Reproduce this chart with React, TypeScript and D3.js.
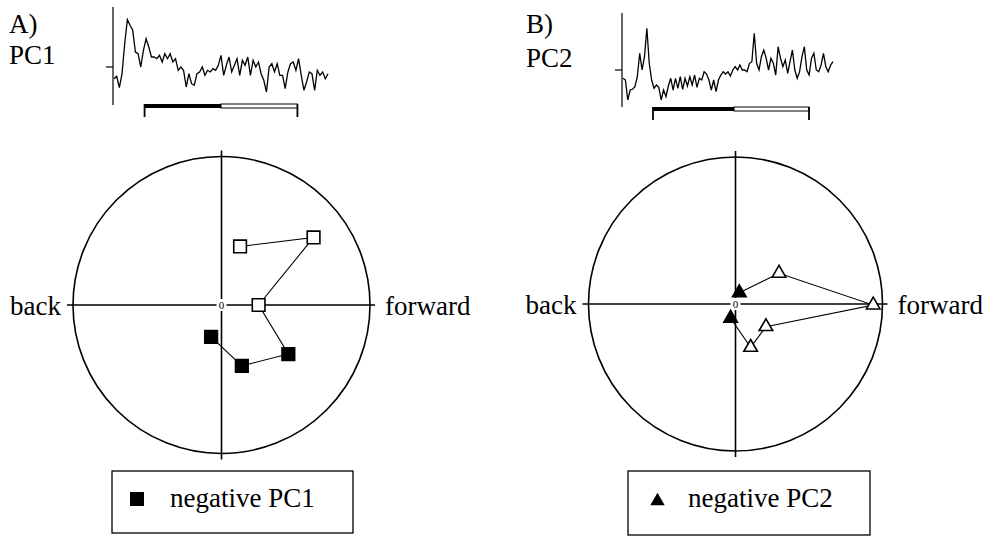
import React from "react";
import * as d3 from "d3";

// ---- data ----
const pc1Wave = [-1.17,-0.93,-2.07,-0.67,2.33,4.73,4.17,3.67,1.5,1.33,0,1.67,2.83,2.0,1.0,1.0,0.83,1.17,0.5,1.33,0.83,1.33,0.5,0.83,-0.33,0,-0.33,-2.0,-0.67,-1.67,-1.83,-0.67,-0.5,0,-0.83,-0.33,-0.5,-0.17,-0.33,0.17,1.17,-0.83,0.17,1.0,-0.5,0.17,0.83,-0.83,0.67,0.17,1.0,-0.83,0.67,0,0.5,-0.67,-1.33,-2.5,0,0.33,-0.5,0.33,-0.83,-0.83,-2.17,-0.5,0.33,0.5,-0.33,0.83,-0.83,-2.33,-1.5,-0.5,-0.67,-2.33,-0.33,-0.83,-0.5,-1.17,-0.67];
const pc2Wave = [-0.83,-1.0,-3.0,-2.0,-1.93,-1.67,-0.67,1.67,0,1.33,4.17,0.67,-1.0,-1.83,-1.5,-1.73,-3.0,-2.0,-2.67,-1.6,-0.83,-2.0,-0.83,-1.83,-0.67,-1.93,-0.83,-1.6,-0.67,-1.5,-0.5,-1.73,-0.83,-1.0,-0.17,-0.4,-1.0,-2.0,-1.0,-2.17,-1.0,-0.5,-0.17,-0.4,-0.17,-0.6,0,0.33,0,0.5,0,0,-0.17,0.67,0.83,3.67,0.67,0,1.33,2.0,1.17,0,1.17,0.67,-0.5,2.33,1.17,0.33,1.0,-0.33,0.83,2.0,0,-0.83,-0.17,1.33,2.33,0,-0.5,1.17,1.67,0,-0.17,0.5,1.67,0.33,-0.17,0.5,0.83];
const timeRange = [-100, 600]; // ms
const pc1Bar = [0, 250, 500];
const pc2Bar = [0, 270, 520];

// PC loadings: [x (back/forward), y]
const pc1PosX = [0.125, 0.62, 0.25];
const pc1PosY = [0.394, 0.455, 0.0];
const pc1NegX = [0.45, 0.137, -0.07];
const pc1NegY = [-0.33, -0.41, -0.214];

const pc2NegStartX = [0.026];
const pc2NegStartY = [0.077];
const pc2PosX = [0.296, 0.937, 0.207, 0.103];
const pc2PosY = [0.209, -0.007, -0.154, -0.295];
const pc2NegEndX = [-0.033];
const pc2NegEndY = [-0.097];

const FONT = "'Liberation Serif', 'Times New Roman', serif";

type Pt = { x: number; y: number; filled: boolean };

function Wave({ values, bar, x0, x1, yTop, yBot, dom, barY, tickLen, label, title, lx, ly1, ly2 }: any) {
  const t = d3.scaleLinear().domain([0, values.length - 1]).range(timeRange);
  const xs = d3.scaleLinear().domain(timeRange).range([x0, x1]);
  const ys = d3.scaleLinear().domain(dom).range([yBot, yTop]);
  const line = d3.line<number>().x((_, i) => xs(t(i))).y((v) => ys(v));
  return (
    <g>
      <text x={lx} y={ly1} fontFamily={FONT} fontSize={27}>{title}</text>
      <text x={lx} y={ly2} fontFamily={FONT} fontSize={27}>{label}</text>
      <line x1={x0 - 1} x2={x0 - 1} y1={yTop} y2={yBot} stroke="#000" strokeWidth={1.2} />
      <line x1={x0 - 8} x2={x0 - 1} y1={ys(0)} y2={ys(0)} stroke="#000" strokeWidth={1.2} />
      <path d={line(values) || ""} fill="none" stroke="#000" strokeWidth={1.3} />
      <rect x={xs(bar[0])} y={barY} width={xs(bar[1]) - xs(bar[0])} height={4} fill="#000" />
      <rect x={xs(bar[1])} y={barY} width={xs(bar[2]) - xs(bar[1])} height={4} fill="#fff" stroke="#000" strokeWidth={1} />
      <line x1={xs(bar[0])} x2={xs(bar[0])} y1={barY} y2={barY + tickLen} stroke="#000" strokeWidth={1.8} />
      <line x1={xs(bar[2])} x2={xs(bar[2])} y1={barY} y2={barY + tickLen} stroke="#000" strokeWidth={1.8} />
    </g>
  );
}

function Polar({ cx, cy, r, pts, shape }: { cx: number; cy: number; r: number; pts: Pt[]; shape: "square" | "triangle" }) {
  const sx = d3.scaleLinear().domain([-1, 1]).range([cx - r, cx + r]);
  const sy = d3.scaleLinear().domain([-1, 1]).range([cy + r, cy - r]);
  const line = d3.line<Pt>().x((d) => sx(d.x)).y((d) => sy(d.y));
  const sym = d3.symbol().type(shape === "square" ? d3.symbolSquare : d3.symbolTriangle).size(shape === "square" ? 160 : 80);
  return (
    <g>
      <circle cx={cx} cy={cy} r={r} fill="none" stroke="#000" strokeWidth={1.6} />
      <line x1={cx} x2={cx} y1={cy - r - 6} y2={cy + r + 6} stroke="#000" strokeWidth={1.6} />
      <line x1={cx - r - 6} x2={cx + r + 5} y1={cy} y2={cy} stroke="#000" strokeWidth={1.6} />
      <rect x={cx - 5} y={cy - 6} width={10} height={12} fill="#fff" />
      <text x={cx} y={cy + 4} textAnchor="middle" fontFamily={FONT} fontSize={11}>0</text>
      <text x={cx - r - 12} y={cy + 10} textAnchor="end" fontFamily={FONT} fontSize={27}>back</text>
      <text x={cx + r + 15} y={cy + 10} fontFamily={FONT} fontSize={27}>forward</text>
      <path d={line(pts) || ""} fill="none" stroke="#000" strokeWidth={1.1} />
      {pts.map((p, i) => (
        <path key={i} d={sym() || ""} transform={`translate(${sx(p.x)},${sy(p.y)})`}
          fill={p.filled ? "#000" : "#fff"} stroke="#000" strokeWidth={1.6} />
      ))}
    </g>
  );
}

export default function App() {
  const pc1Pts: Pt[] = [
    ...pc1PosX.map((x, i) => ({ x, y: pc1PosY[i], filled: false })),
    ...pc1NegX.map((x, i) => ({ x, y: pc1NegY[i], filled: true })),
  ];
  const pc2Pts: Pt[] = [
    ...pc2NegStartX.map((x, i) => ({ x, y: pc2NegStartY[i], filled: true })),
    ...pc2PosX.map((x, i) => ({ x, y: pc2PosY[i], filled: false })),
    ...pc2NegEndX.map((x, i) => ({ x, y: pc2NegEndY[i], filled: true })),
  ];
  const tri = d3.symbol().type(d3.symbolTriangle).size(90)();
  return (
    <svg width={988} height={538} style={{ position: "absolute", left: 0, top: 0, background: "#fff" }}>
      <Wave values={pc1Wave} bar={pc1Bar} x0={114} x1={328} yTop={7} yBot={105} dom={[-3.8, 6.0]}
        barY={104} tickLen={13} title="A)" label="PC1" lx={9} ly1={33} ly2={64} />
      <Wave values={pc2Wave} bar={pc2Bar} x0={623} x1={833} yTop={13} yBot={107} dom={[-3.7, 5.7]}
        barY={107} tickLen={13} title="B)" label="PC2" lx={526} ly1={33} ly2={67} />
      <Polar cx={221.5} cy={305} r={148.5} pts={pc1Pts} shape="square" />
      <Polar cx={735.5} cy={304} r={147} pts={pc2Pts} shape="triangle" />

      <rect x={112} y={471} width={241} height={62} fill="none" stroke="#000" strokeWidth={1.3} />
      <rect x={130} y={492} width={14} height={14} fill="#000" />
      <text x={170} y={507} fontFamily={FONT} fontSize={27}>negative PC1</text>

      <rect x={628} y={471} width={242} height={64} fill="none" stroke="#000" strokeWidth={1.3} />
      <path d={tri || ""} transform="translate(657.5,501)" fill="#000" />
      <text x={688} y={507} fontFamily={FONT} fontSize={27}>negative PC2</text>
    </svg>
  );
}
